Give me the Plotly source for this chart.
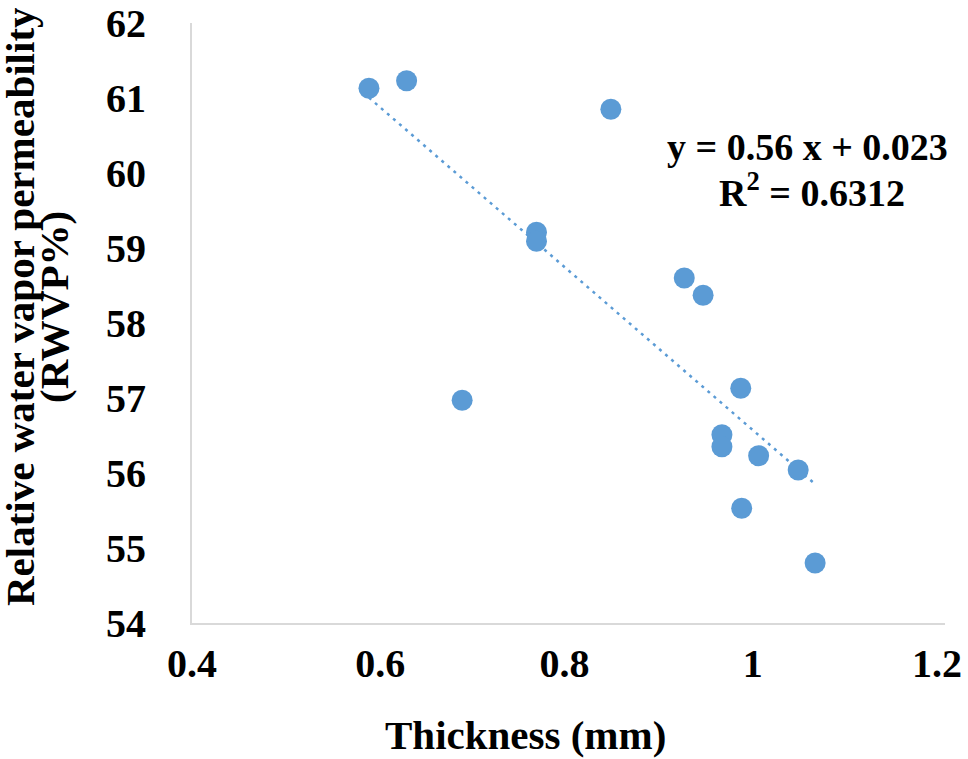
import numpy as np
import plotly.graph_objects as go

thickness = [0.588, 0.628, 0.845, 0.766, 0.766, 0.923, 0.943, 0.687, 0.983, 0.963, 0.963, 1.002, 1.044, 0.984, 1.062]
rwvp = [61.13, 61.23, 60.85, 59.21, 59.09, 58.60, 58.37, 56.97, 57.13, 56.51, 56.35, 56.23, 56.04, 55.53, 54.80]
x_ticks = [0.4, 0.6, 0.8, 1.0, 1.2]
x_tick_text = ["0.4", "0.6", "0.8\u2009", "1\u2009", "1.2\u2009\u2009"]
y_ticks = [54, 55, 56, 57, 58, 59, 60, 61, 62]
equation_text = "y = 0.56 x + 0.023"
r2_text = "R<sup>2</sup> = 0.6312"

FONT = "Liberation Serif"
BLUE = "#5B9BD5"

slope, intercept = np.polyfit(thickness, rwvp, 1)
fx = [min(thickness), max(thickness)]
fy = [slope * v + intercept for v in fx]

fig = go.Figure()
fig.add_trace(go.Scatter(x=fx, y=fy, mode="lines",
                         line=dict(color=BLUE, width=2.5, dash="3px,5px"),
                         hoverinfo="skip", showlegend=False))
fig.add_trace(go.Scatter(x=thickness, y=rwvp, mode="markers",
                         marker=dict(color=BLUE, size=21, line=dict(width=0)),
                         showlegend=False))

L, R, T, B = 192, 23, 23, 136
W, H = 968, 759
pw, ph = W - L - R, H - T - B

def px(x):
    return (x - L) / pw

def py(y):
    return (H - B - y) / ph

tick_font = dict(family=FONT, size=40, color="black", weight="bold")

def ann(text, x, y, size, angle=0):
    return dict(text="<b>" + text + "</b>", xref="paper", yref="paper",
                x=px(x), y=py(y), xanchor="center", yanchor="middle",
                showarrow=False, textangle=angle,
                font=dict(family=FONT, size=size, color="black"))

fig.update_layout(
    width=W, height=H,
    margin=dict(l=L, r=R, t=T, b=B, autoexpand=False),
    paper_bgcolor="white", plot_bgcolor="white",
    font=dict(family=FONT, color="black"),
    xaxis=dict(range=[0.4, 1.2], tickvals=x_ticks, ticktext=x_tick_text,
               showgrid=False, zeroline=False, showline=True,
               linecolor="#D9D9D9", linewidth=2, ticks="",
               automargin=False, ticklabeloverflow="allow",
               ticklabelstandoff=4, tickfont=tick_font),
    yaxis=dict(range=[54, 62], tickvals=y_ticks,
               showgrid=False, zeroline=False, showline=True,
               linecolor="#D9D9D9", linewidth=2, ticks="",
               automargin=False, ticklabeloverflow="allow",
               ticklabelstandoff=36, tickfont=tick_font),
    annotations=[
        ann("Thickness (mm)", 525, 735, 41),
        ann("Relative water vapor permeability", 20, 307, 41, -90),
        ann("(RWVP%)", 54, 307, 41, -90),
        ann(equation_text, 807, 147, 38),
        ann(r2_text, 812, 190, 38),
    ],
)

fig.write_html("out.html", config={"displayModeBar": False},
               post_script="document.body.style.margin='0';document.body.style.overflow='hidden';")
